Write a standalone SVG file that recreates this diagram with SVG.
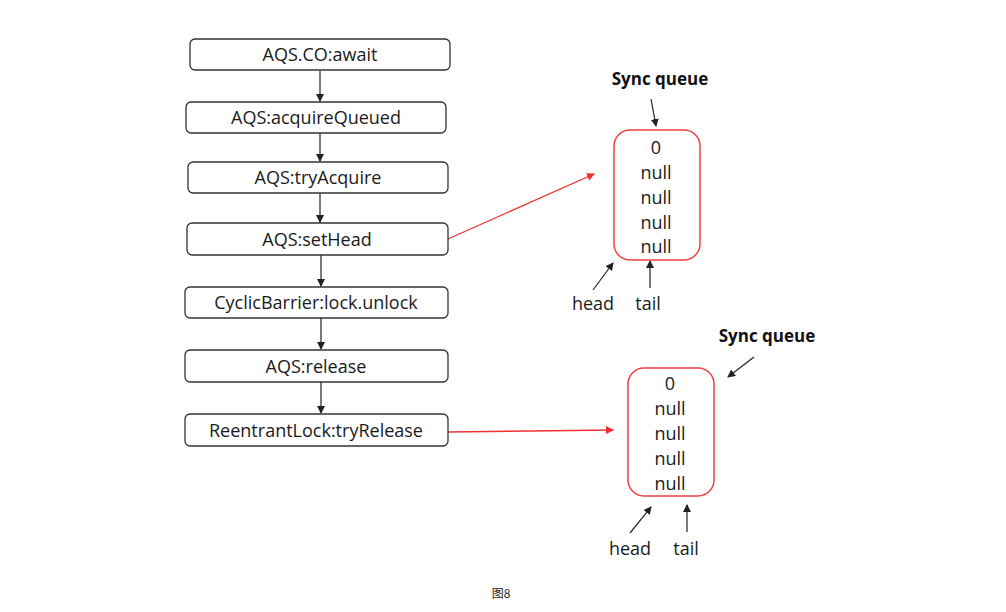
<svg xmlns="http://www.w3.org/2000/svg" width="1006" height="612" viewBox="0 0 1006 612">
<defs>
<style>
.box{fill:#fff;stroke:#333;stroke-width:1.3}
.q{fill:#fff;stroke:#f04040;stroke-width:1.5}
.t{font-family:"Open Sans","Noto Sans",sans-serif;font-size:18px;fill:#1a1a1a;text-anchor:middle}
.b{font-family:"Open Sans","Noto Sans",sans-serif;font-size:17px;font-weight:bold;fill:#111;text-anchor:middle}
.c{stroke:#222;stroke-width:1.2;fill:none}
.r{stroke:#f03030;stroke-width:1.3;fill:none}
.cap{font-family:"Noto Sans CJK SC","Noto Sans",sans-serif;font-size:12px;fill:#222;text-anchor:middle}
</style>
<marker id="ah" markerWidth="8" markerHeight="8" refX="7" refY="4" orient="auto" markerUnits="userSpaceOnUse"><path d="M0,0 L8,4 L0,8 z" fill="#222"/></marker>
<marker id="rh" markerWidth="8" markerHeight="8" refX="7" refY="4" orient="auto" markerUnits="userSpaceOnUse"><path d="M0,0 L8,4 L0,8 z" fill="#f03030"/></marker>
</defs>
<rect width="1006" height="612" fill="#fff"/>
<g id="connectors">
<line class="c" x1="320" y1="71" x2="320" y2="101" marker-end="url(#ah)"/>
<line class="c" x1="320" y1="133" x2="320" y2="161" marker-end="url(#ah)"/>
<line class="c" x1="320" y1="193" x2="320" y2="222" marker-end="url(#ah)"/>
<line class="c" x1="321" y1="255" x2="321" y2="286" marker-end="url(#ah)"/>
<line class="c" x1="321" y1="318" x2="321" y2="349" marker-end="url(#ah)"/>
<line class="c" x1="321" y1="382" x2="321" y2="413" marker-end="url(#ah)"/>
<line class="r" x1="448" y1="239" x2="594" y2="174" marker-end="url(#rh)"/>
<line class="r" x1="448" y1="432" x2="613" y2="430" marker-end="url(#rh)"/>
<line class="c" x1="651" y1="99" x2="656" y2="126" marker-end="url(#ah)"/>
<line class="c" x1="593" y1="290" x2="613" y2="263" marker-end="url(#ah)"/>
<line class="c" x1="650" y1="288" x2="650" y2="261" marker-end="url(#ah)"/>
<line class="c" x1="754" y1="357" x2="728" y2="377" marker-end="url(#ah)"/>
<line class="c" x1="630" y1="533" x2="651" y2="507" marker-end="url(#ah)"/>
<line class="c" x1="687" y1="532" x2="687" y2="505" marker-end="url(#ah)"/>
</g>
<g id="n1"><rect class="box" x="190" y="39" width="260" height="31" rx="5"/><text class="t" x="320" y="61">AQS.CO:await</text></g>
<g id="n2"><rect class="box" x="186" y="102" width="260" height="31" rx="5"/><text class="t" x="316" y="124">AQS:acquireQueued</text></g>
<g id="n3"><rect class="box" x="188" y="162" width="260" height="31" rx="5"/><text class="t" x="318" y="184">AQS:tryAcquire</text></g>
<g id="n4"><rect class="box" x="187" y="223" width="261" height="32" rx="5"/><text class="t" x="317" y="245.5">AQS:setHead</text></g>
<g id="n5"><rect class="box" x="185" y="287" width="263" height="31" rx="5"/><text class="t" x="316" y="309">CyclicBarrier:lock.unlock</text></g>
<g id="n6"><rect class="box" x="185" y="350" width="263" height="32" rx="5"/><text class="t" x="316" y="372.5">AQS:release</text></g>
<g id="n7"><rect class="box" x="185" y="414" width="263" height="32" rx="5"/><text class="t" x="316" y="436.5">ReentrantLock:tryRelease</text></g>
<g id="q1">
<rect class="q" x="614" y="130" width="86" height="130" rx="16"/>
<text class="t" x="656" y="153.5">0</text>
<text class="t" x="656" y="178.5">null</text>
<text class="t" x="656" y="203.5">null</text>
<text class="t" x="656" y="228.5">null</text>
<text class="t" x="656" y="252.5">null</text>
</g>
<g id="q1labels">
<text class="b" x="660" y="85">Sync queue</text>
<text class="t" x="593" y="310">head</text>
<text class="t" x="648" y="310">tail</text>
</g>
<g id="q2">
<rect class="q" x="628" y="368" width="86" height="128" rx="16"/>
<text class="t" x="670" y="389.5">0</text>
<text class="t" x="670" y="414.5">null</text>
<text class="t" x="670" y="439.5">null</text>
<text class="t" x="670" y="464.5">null</text>
<text class="t" x="670" y="489.5">null</text>
</g>
<g id="q2labels">
<text class="b" x="767" y="342">Sync queue</text>
<text class="t" x="630" y="555">head</text>
<text class="t" x="686" y="555">tail</text>
</g>
<text class="cap" x="501" y="598">图8</text>
</svg>
